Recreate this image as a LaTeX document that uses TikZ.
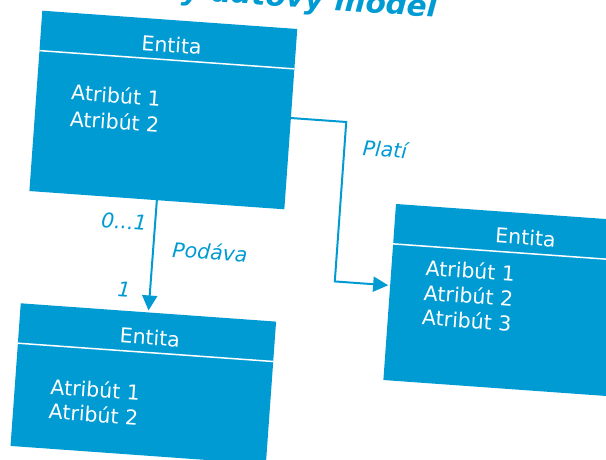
\documentclass[tikz,border=0pt]{standalone}
\usepackage{fontspec}
\setmainfont{DejaVu Sans}
\usetikzlibrary{arrows.meta,calc}
\definecolor{eblue}{RGB}{0,155,211}
\begin{document}
\begin{tikzpicture}[x=1pt,y=1pt,
  hdr/.style={fill=eblue, draw=none, minimum width=#1, minimum height=40pt,
    inner sep=0pt, outer sep=0pt, anchor=north west},
  bodybox/.style={fill=eblue, draw=none, minimum width=#1,
    inner sep=0pt, outer sep=0pt, anchor=north west},
  sepline/.style={draw=white, line width=1.5pt},
  ent/.style={text=white, font=\fontsize{20.5}{24}\selectfont, anchor=base, inner sep=0pt},
  attr/.style={text=white, font=\fontsize{20.5}{24}\selectfont, anchor=base west, inner sep=0pt},
  lbl/.style={text=eblue, font=\itshape\fontsize{20.5}{24}\selectfont, inner sep=0pt},
  conn/.style={draw=eblue, line width=2pt, -{Triangle[length=15pt,width=15pt]}, shorten >=2pt}]
\useasboundingbox (0,0) rectangle (606,460);
\clip (0,0) rectangle (606,460);
\begin{scope}[transform canvas={rotate around={-4.1:(303,230)}}]
  % title
  \node[text=eblue, font=\bfseries\itshape\fontsize{29.5}{34}\selectfont, anchor=base east, inner sep=0pt]
    (title) at (421,451.5) {Relačný dátový model};
  % box 1
  \node[hdr=255.6] (h1) at (27.3,430.1) {};
  \node[bodybox=255.6, minimum height=140.8pt] (b1) at (h1.south west) {};
  \draw[sepline] (h1.south west) -- (h1.south east);
  \node[ent] (t1) at (158.8,397.5) {Entita};
  \node[attr] (a11) at (62,343.1) {Atribút 1};
  \node[attr] (a12) at (62.5,317) {Atribút 2};
  % box 2
  \node[hdr=256] (h2) at (26.7,136.7) {};
  \node[bodybox=256, minimum height=103pt] (b2) at (h2.south west) {};
  \draw[sepline] (h2.south west) -- (h2.south east);
  \node[ent] (t2) at (158,104.4) {Entita};
  \node[attr] (a21) at (62.3,48) {Atribút 1};
  \node[attr] (a22) at (62.4,23.5) {Atribút 2};
  % box 3
  \node[hdr=258] (h3) at (393.9,262.6) {};
  \node[bodybox=258, minimum height=136.5pt] (b3) at (h3.south west) {};
  \draw[sepline] (h3.south west) -- (h3.south east);
  \node[ent] (t3) at (525.5,230.9) {Entita};
  \node[attr] (a31) at (428,193.6) {Atribút 1};
  \node[attr] (a32) at (428,168.7) {Atribút 2};
  \node[attr] (a33) at (428,143.8) {Atribút 3};
  % connectors
  \draw[conn] (b1.south) -- (h2.north);
  \coordinate (s) at ($(b1.north east)!0.35!(b1.south east)$);
  \coordinate (t) at ($(b3.north west)!0.305!(b3.south west)$);
  \draw[conn] (s) -| ($(s)!0.5!(t)$) |- (t);
  % labels
  \node[lbl] (l01) at (124,225.7) {0...1};
  \node[lbl] (lpod) at (211.8,201.7) {Podáva};
  \node[lbl] (l1) at (128.8,157.4) {1};
  \node[lbl] (lpl) at (379,316.7) {Platí};
\end{scope}
\end{tikzpicture}
\end{document}
